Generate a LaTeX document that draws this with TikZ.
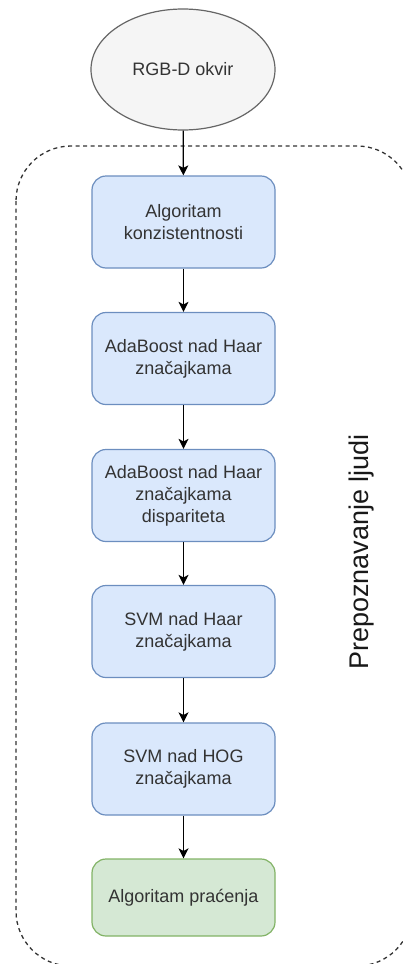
\documentclass[tikz,border=0pt]{standalone}
\usepackage{fontspec}
\setmainfont{Liberation Sans}
\usetikzlibrary{arrows.meta,shapes.geometric}
\definecolor{txt}{HTML}{333333}
\definecolor{ellfill}{HTML}{F5F5F5}
\definecolor{elldraw}{HTML}{666666}
\definecolor{bluefill}{HTML}{DAE8FC}
\definecolor{bluedraw}{HTML}{6C8EBF}
\definecolor{greenfill}{HTML}{D5E8D4}
\definecolor{greendraw}{HTML}{82B366}
\tikzset{
  stepbox/.style={rectangle, rounded corners=14pt, draw=bluedraw, fill=bluefill, line width=1.2pt,
    minimum width=183pt, minimum height=92pt, align=center, text=txt,
    font=\fontsize{18}{22}\selectfont, inner sep=2pt},
  greenbox/.style={stepbox, draw=greendraw, fill=greenfill, minimum height=77pt},
  startell/.style={ellipse, draw=elldraw, fill=ellfill, line width=1.2pt,
    minimum width=184pt, minimum height=121pt, inner sep=0pt, text=txt,
    font=\fontsize{18}{22}\selectfont},
  conn/.style={line width=1.3pt, -{Stealth[length=10pt,width=10pt,inset=2.5pt]}},
}
\begin{document}
\begin{tikzpicture}[x=1pt,y=-1pt]
\useasboundingbox (0,0) rectangle (403,964);
\begin{scope}
\clip (0,0) rectangle (403,964);
\draw[dash pattern=on 4pt off 3.5pt, line width=1.3pt, black!80, rounded corners=55pt] (16,146) rectangle (412,966);
\end{scope}
\node[startell] (start) at (183,69.5) {RGB-D okvir};
\node[stepbox] (b1) at (183.5,222) {Algoritam\\konzistentnosti};
\node[stepbox] (b2) at (183.5,358.5) {AdaBoost nad Haar\\značajkama};
\node[stepbox] (b3) at (183.5,495.5) {AdaBoost nad Haar\\značajkama\\dispariteta};
\node[stepbox] (b4) at (183.5,631.5) {SVM nad Haar\\značajkama};
\node[stepbox] (b5) at (183.5,769) {SVM nad HOG\\značajkama};
\node[greenbox] (b6) at (183.5,897.5) {Algoritam praćenja};
\node[rotate=90, text=black!90, font=\fontsize{27}{32}\selectfont] (lbl) at (362,552) {Prepoznavanje ljudi};
\draw[conn] (start) -- (b1);
\draw[conn] (b1) -- (b2);
\draw[conn] (b2) -- (b3);
\draw[conn] (b3) -- (b4);
\draw[conn] (b4) -- (b5);
\draw[conn] (b5) -- (b6);
\end{tikzpicture}
\end{document}
